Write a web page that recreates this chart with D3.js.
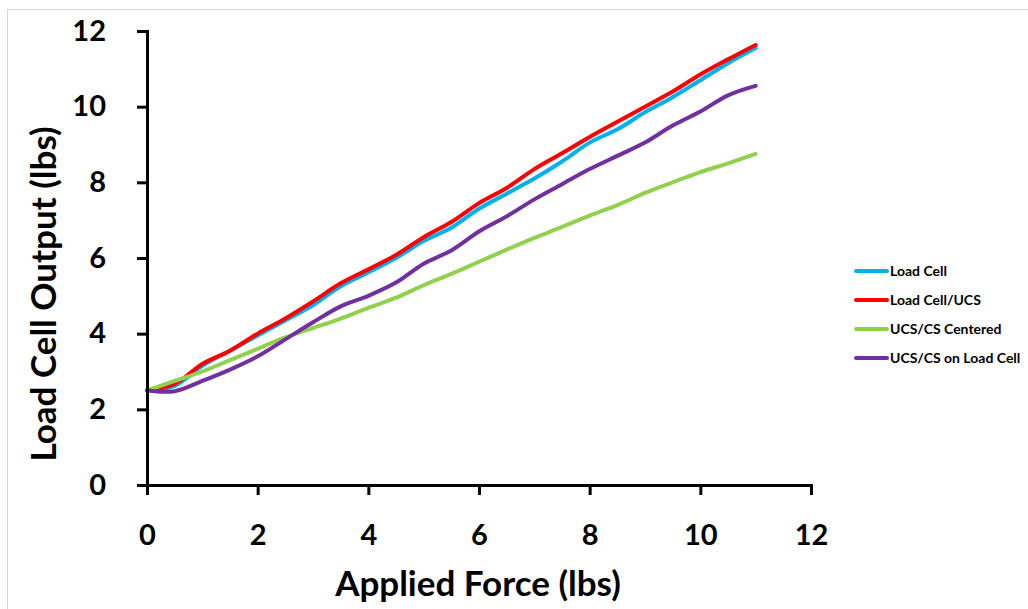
<!DOCTYPE html>
<html><head><meta charset="utf-8">
<script src="https://cdn.jsdelivr.net/npm/d3@7"></script>
<style>
body{margin:0;background:#fff;}
svg text{font-family:Lato,"Open Sans",sans-serif;font-weight:bold;fill:#000;}
</style></head>
<body><svg id="c" width="1028" height="609"></svg>
<script>
const xValues = [0,0.5,1,1.5,2,2.5,3,3.5,4,4.5,5,5.5,6,6.5,7,7.5,8,8.5,9,9.5,10,10.5,11];
const loadCell = [2.5,2.62,3.15,3.55,3.95,4.35,4.75,5.25,5.62,6.0,6.45,6.8,7.3,7.7,8.1,8.55,9.05,9.4,9.85,10.25,10.7,11.15,11.55];
const loadCellUCS = [2.5,2.67,3.2,3.55,4.0,4.4,4.85,5.33,5.7,6.08,6.55,6.95,7.45,7.85,8.35,8.77,9.2,9.6,10.0,10.4,10.85,11.25,11.63];
const ucsCentered = [2.5,2.75,3.0,3.3,3.6,3.9,4.15,4.4,4.68,4.95,5.28,5.58,5.9,6.22,6.53,6.82,7.12,7.4,7.72,8.0,8.27,8.5,8.75];
const ucsOnLoadCell = [2.5,2.48,2.75,3.05,3.4,3.85,4.3,4.72,5.0,5.35,5.85,6.2,6.7,7.1,7.55,7.95,8.35,8.7,9.05,9.5,9.87,10.3,10.55];
const seriesNames = ["Load Cell","Load Cell/UCS","UCS/CS Centered","UCS/CS on Load Cell"];
const seriesColors = ["#00B0F0","#FF0000","#92D050","#7030A0"];
const xTicks = [0,2,4,6,8,10,12];
const yTicks = [0,2,4,6,8,10,12];
const xTitle = "Applied Force (lbs)";
const yTitle = "Load Cell Output (lbs)";

const seriesData = [loadCell, loadCellUCS, ucsCentered, ucsOnLoadCell];
const svg = d3.select("#c");
svg.append("rect").attr("x",7.5).attr("y",9.5).attr("width",1040).attr("height",640)
  .attr("fill","#fff").attr("stroke","#d9d9d9").attr("stroke-width",1);

const x = d3.scaleLinear().domain([0,12]).range([147,811]);
const y = d3.scaleLinear().domain([0,12]).range([485,31]);

const line = d3.line().x(d=>x(d[0])).y(d=>y(d[1])).curve(d3.curveCatmullRom.alpha(0.5));
const g = svg.append("g");
seriesData.forEach((vals,i)=>{
  g.append("path").datum(xValues.map((v,j)=>[v,vals[j]]))
   .attr("d",line).attr("fill","none").attr("stroke",seriesColors[i])
   .attr("stroke-width",4).attr("stroke-linecap","round").attr("stroke-linejoin","round");
});

const xAxis = svg.append("g").attr("transform","translate(0,485)")
  .call(d3.axisBottom(x).tickValues(xTicks).tickSize(10).tickPadding(29).tickFormat(d3.format("d")));
const yAxis = svg.append("g").attr("transform","translate(147,0)")
  .call(d3.axisLeft(y).tickValues(yTicks).tickSize(10).tickPadding(30).tickFormat(d3.format("d")));
[xAxis,yAxis].forEach(a=>{
  a.select(".domain").attr("stroke","#000").attr("stroke-width",3);
  a.selectAll(".tick line").attr("stroke","#000").attr("stroke-width",3);
  a.selectAll(".tick text").style("font-size","29px").style("font-family","Lato").style("font-weight","bold");
});
yAxis.selectAll(".tick text").attr("x",-41);

svg.append("text").attr("x",478).attr("y",596).attr("text-anchor","middle")
  .style("font-size","35px").text(xTitle);
svg.append("text").attr("transform","translate(56,294) rotate(-90)").attr("text-anchor","middle")
  .style("font-size","35px").text(yTitle);

const leg = svg.append("g");
seriesNames.forEach((n,i)=>{
  const yy = 271 + i*29;
  leg.append("line").attr("x1",856).attr("x2",887).attr("y1",yy).attr("y2",yy)
    .attr("stroke",seriesColors[i]).attr("stroke-width",4).attr("stroke-linecap","round");
  leg.append("text").attr("x",890).attr("y",yy).attr("dy","0.35em").style("font-size","14px").text(n);
});
</script></body></html>
